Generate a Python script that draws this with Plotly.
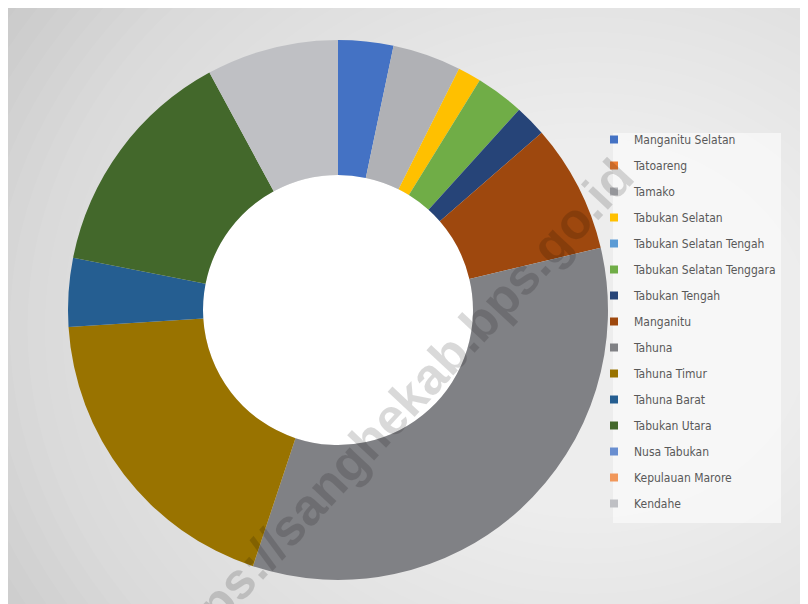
import plotly.graph_objects as go

# kecamatan (districts) and their share of the donut (%)
districts = [
    "Manganitu Selatan", "Tatoareng", "Tamako", "Tabukan Selatan",
    "Tabukan Selatan Tengah", "Tabukan Selatan Tenggara", "Tabukan Tengah",
    "Manganitu", "Tahuna", "Tahuna Timur", "Tahuna Barat", "Tabukan Utara",
    "Nusa Tabukan", "Kepulauan Marore", "Kendahe",
]
shares = [3.3, 0, 4.1, 1.4, 0, 2.9, 1.9, 7.7, 33.8, 18.9, 4.1, 14.0, 0, 0, 7.9]
colors = [
    "#4472c4", "#ed7d31", "#b0b1b5", "#ffc000", "#5b9bd5", "#70ad47",
    "#264478", "#9e480e", "#808185", "#997300", "#255e91", "#43682b",
    "#698ed0", "#f1975a", "#bfc0c4",
]

W, H = 808, 604


def px(x, y):
    # pixel position -> paper coords
    return x / W, 1 - y / H


fig = go.Figure()

# donut (square domain so the pie fills it)
cx, cy, d = 330, 302, 540
x0, y1 = px(cx - d / 2, cy - d / 2)
x1, y0 = px(cx + d / 2, cy + d / 2)
fig.add_trace(go.Pie(
    labels=districts,
    values=shares,
    hole=0.5,
    sort=False,
    direction="clockwise",
    rotation=0,
    marker=dict(colors=colors, line=dict(width=0)),
    textinfo="none",
    showlegend=False,
    domain=dict(x=[x0, x1], y=[y0, y1]),
))

# legend built from the same categories, one group each so the gap can be set
for name, col in zip(districts, colors):
    fig.add_trace(go.Scatter(
        x=[None], y=[None], mode="markers", name=name, legendgroup=name,
        marker=dict(symbol="square", size=8, color=col),
    ))

# radial grey background
shapes = []
n = 40
for k in range(n):
    r = 720 - k * (720 - 30) / (n - 1)
    ex0, ey1 = px(580 - r, 320 - r * 0.85)
    ex1, ey0 = px(580 + r, 320 + r * 0.85)
    shapes.append(dict(type="circle", xref="paper", yref="paper",
                       x0=ex0, x1=ex1, y0=ey0, y1=ey1, layer="below",
                       fillcolor="rgba(255,255,255,0.05)", line_width=0))

# white hole of the donut
hr = d / 4
hx0, hy1 = px(cx - hr, cy - hr)
hx1, hy0 = px(cx + hr, cy + hr)
shapes.append(dict(type="circle", xref="paper", yref="paper",
                   x0=hx0, x1=hx1, y0=hy0, y1=hy1, layer="below",
                   fillcolor="white", line_width=0))

# legend panel
lx0, ly1 = px(605, 125)
lx1, ly0 = px(773, 515)
shapes.append(dict(type="rect", xref="paper", yref="paper",
                   x0=lx0, x1=lx1, y0=ly0, y1=ly1, layer="below",
                   fillcolor="rgba(255,255,255,0.55)", line_width=0))

wx, wy = px(384, 407)
fig.update_layout(
    width=W, height=H,
    margin=dict(l=0, r=0, t=0, b=0),
    paper_bgcolor="#c6c6c6",
    plot_bgcolor="rgba(0,0,0,0)",
    xaxis=dict(visible=False),
    yaxis=dict(visible=False),
    shapes=shapes,
    showlegend=True,
    legend=dict(
        x=px(586, 0)[0], y=px(0, 117)[1], xanchor="left", yanchor="top",
        bgcolor="rgba(0,0,0,0)", tracegroupgap=7, traceorder="grouped",
        font=dict(family="DejaVu Sans Condensed, Lato, sans-serif",
                  size=12, color="#595959"),
    ),
    annotations=[dict(
        text="https://sanghekab.bps.go.id", xref="paper", yref="paper",
        x=wx, y=wy, xanchor="center", yanchor="middle",
        showarrow=False, textangle=-47,
        font=dict(family="Liberation Sans, Arial, sans-serif", size=51,
                  color="rgba(0,0,0,0.15)", weight="bold"),
    )],
)

fig.write_html("out.html")
